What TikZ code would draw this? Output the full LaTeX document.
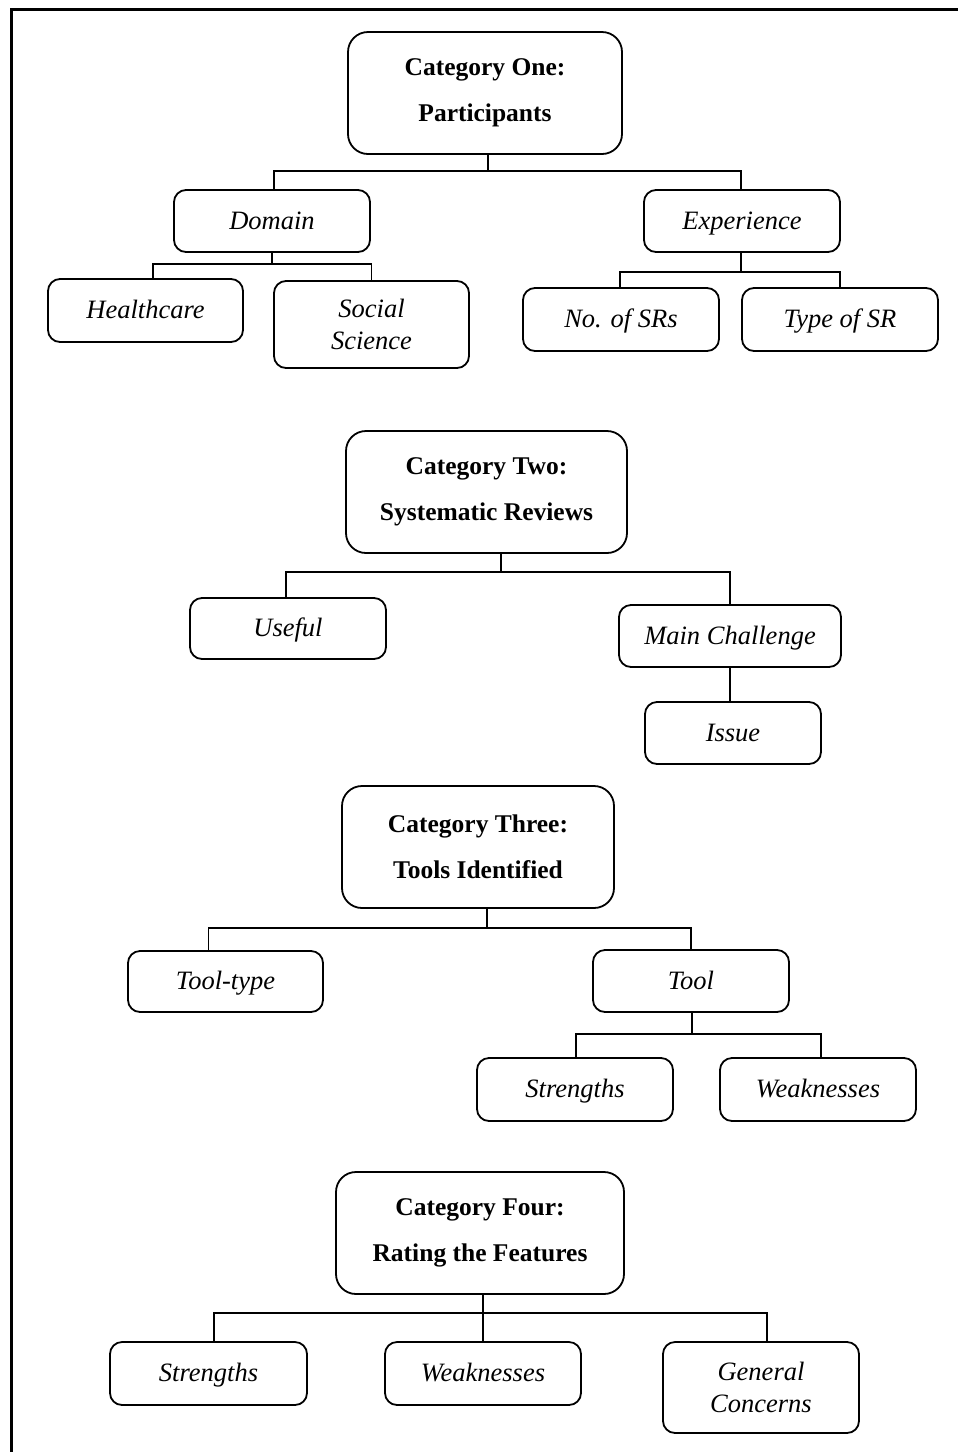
\documentclass[tikz,border=0pt]{standalone}
\usepackage{fontspec}
\setmainfont{Liberation Serif}
\begin{document}
\begin{tikzpicture}[x=1pt,y=-1pt,
  catbox/.style={draw, line width=1.8pt, rounded corners=20pt, inner sep=0pt, align=center,
    font=\fontsize{25.5}{31}\selectfont\bfseries},
  subbox/.style={draw, line width=1.8pt, rounded corners=12pt, inner sep=0pt, align=center,
    font=\fontsize{26.5}{32}\selectfont\itshape},
  oneline/.style={text height=20pt, text depth=4pt},
  conn/.style={line width=1.8pt}]
\useasboundingbox (0,0) rectangle (958,1452);
\draw[line width=3pt] (11,1460) -- (11,9) -- (965,9);

% ---------- Category One ----------
\node[catbox, minimum width=274, minimum height=122] (c1) at (485,93) {Category One:\\[15pt]Participants};
\node[subbox, oneline, minimum width=196, minimum height=62] (dom) at (272,221) {Domain};
\node[subbox, oneline, minimum width=196, minimum height=62] (exp) at (742,221) {Experience};
\node[subbox, oneline, minimum width=195, minimum height=63] (hc) at (145.5,310.5) {Healthcare};
\node[subbox, minimum width=195, minimum height=87] (ss) at (371.5,324.5) {Social\\Science};
\node[subbox, oneline, minimum width=196, minimum height=63] (nsr) at (621,319.5) {No. of SRs};
\node[subbox, oneline, minimum width=196, minimum height=63] (tsr) at (840,319.5) {Type of SR};

\draw[conn] ([xshift=3pt]c1.south) -- ++(0,16) coordinate (b1);
\draw[conn] (b1) -| ([xshift=2pt]dom.north);
\draw[conn] (b1) -| ([xshift=-1pt]exp.north);
\draw[conn] (dom.south) -- ++(0,11) coordinate (b2);
\draw[conn] (b2) -| ([xshift=7.5pt]hc.north);
\draw[conn] (b2) -| (ss.north);
\draw[conn] ([xshift=-1pt]exp.south) -- ++(0,19) coordinate (b3);
\draw[conn] (b3) -| ([xshift=-1pt]nsr.north);
\draw[conn] (b3) -| (tsr.north);

% ---------- Category Two ----------
\node[catbox, minimum width=281, minimum height=122] (c2) at (486.5,492) {Category Two:\\[15pt]Systematic Reviews};
\node[subbox, oneline, minimum width=196, minimum height=61] (use) at (288,628.5) {Useful};
\node[subbox, oneline, minimum width=222, minimum height=62] (mc) at (730,636) {Main Challenge};
\node[subbox, oneline, minimum width=176, minimum height=62] (iss) at (733,733) {Issue};

\draw[conn] ([xshift=14.5pt]c2.south) -- ++(0,18) coordinate (b4);
\draw[conn] (b4) -| ([xshift=-2pt]use.north);
\draw[conn] (b4) -| (mc.north);
\draw[conn] (mc.south) -- (mc.south |- iss.north);

% ---------- Category Three ----------
\node[catbox, minimum width=272, minimum height=122] (c3) at (478,847) {Category Three:\\[15pt]Tools Identified};
\node[subbox, oneline, minimum width=195, minimum height=61] (tt) at (225.5,981.5) {Tool-type};
\node[subbox, oneline, minimum width=196, minimum height=62] (tool) at (691,981) {Tool};
\node[subbox, oneline, minimum width=196, minimum height=63] (st1) at (575,1089.5) {Strengths};
\node[subbox, oneline, minimum width=196, minimum height=63] (wk1) at (818,1089.5) {Weaknesses};

\draw[conn] ([xshift=9pt]c3.south) -- ++(0,19) coordinate (b5);
\draw[conn] (b5) -| ([xshift=-17pt]tt.north);
\draw[conn] (b5) -| (tool.north);
\draw[conn] ([xshift=1pt]tool.south) -- ++(0,21) coordinate (b6);
\draw[conn] (b6) -| ([xshift=1pt]st1.north);
\draw[conn] (b6) -| ([xshift=3pt]wk1.north);

% ---------- Category Four ----------
\node[catbox, minimum width=288, minimum height=122] (c4) at (480,1233) {Category Four:\\[15pt]Rating the Features};
\node[subbox, oneline, minimum width=197, minimum height=63] (st2) at (208.5,1373.5) {Strengths};
\node[subbox, oneline, minimum width=196, minimum height=63] (wk2) at (483,1373.5) {Weaknesses};
\node[subbox, minimum width=196, minimum height=91] (gc) at (761,1387.5) {General\\Concerns};

\draw[conn] ([xshift=3pt]c4.south) -- ++(0,18) coordinate (b7);
\draw[conn] (b7) -| ([xshift=5.5pt]st2.north);
\draw[conn] (b7) -- (wk2.north);
\draw[conn] (b7) -| ([xshift=6pt]gc.north);
\end{tikzpicture}
\end{document}
